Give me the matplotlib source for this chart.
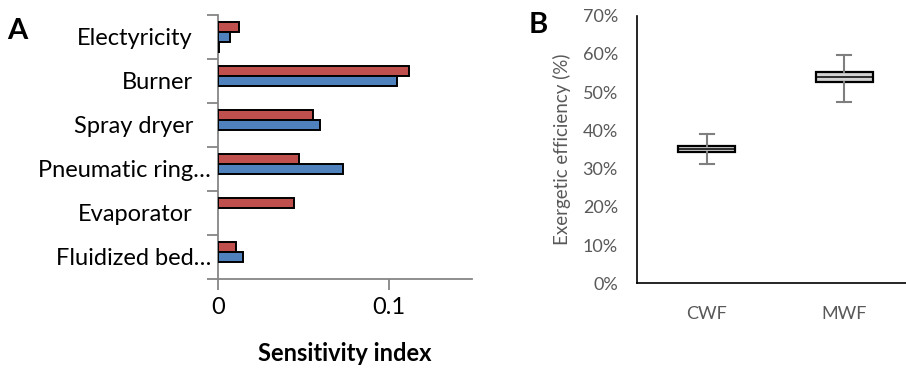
import numpy as np
import matplotlib
matplotlib.use("Agg")
import matplotlib.pyplot as plt
from matplotlib.ticker import FixedLocator, PercentFormatter

# ---- Panel A data ----
categories = ["Fluidized bed…", "Evaporator", "Pneumatic ring…", "Spray dryer", "Burner", "Electyricity"]
red_vals = [0.0106, 0.0446, 0.0477, 0.0555, 0.1121, 0.0125]
blue_vals = [0.0148, 0.0, 0.0731, 0.0598, 0.1047, 0.0070]
third_vals = [0.0, 0.0, 0.0, 0.0, 0.0, 0.0004]
x_ticks_a = [0, 0.1]
x_ticklabels_a = ["0", "0.1"]

# ---- Panel B data ----
box_labels = ["CWF", "MWF"]
whisker_low = [0.312, 0.475]
q1 = [0.344, 0.527]
median = [0.352, 0.539]
q3 = [0.360, 0.552]
whisker_high = [0.390, 0.598]
y_ticks_b = [0, 0.1, 0.2, 0.3, 0.4, 0.5, 0.6, 0.7]

plt.rcParams['font.family'] = ['Lato', 'DejaVu Sans']

fig = plt.figure(figsize=(9.06, 3.68), dpi=100)

# ---------- Panel A ----------
axA = fig.add_axes([0.2406, 0.241, 0.280, 0.719])
ypos = np.arange(len(categories))
w = 0.225
red_c = "#C0504D"
blue_c = "#4F81BD"
def draw(vals, offset, color):
    vals = np.asarray(vals)
    m = vals > 0
    axA.barh(ypos[m] + offset, vals[m], height=w, color=color,
             edgecolor="black", linewidth=1.4, zorder=3)
draw(red_vals, w, red_c)
draw(blue_vals, 0, blue_c)
draw(third_vals, -w, "#9BBB59")

axA.set_xlim(0, 0.1487)
axA.set_ylim(-0.5, len(categories) - 0.5)
axA.set_xticks(x_ticks_a)
axA.set_xticklabels(x_ticklabels_a, fontsize=17)
axA.set_yticks(ypos)
axA.set_yticklabels([])
ytr = axA.get_yaxis_transform()
for i, lab in enumerate(categories):
    xoff = -0.0276 if lab.endswith("…") else -0.0985
    axA.text(xoff, ypos[i] - 0.03, lab, transform=ytr, ha="right", va="center",
             fontsize=17, color="black")
axA.yaxis.set_minor_locator(FixedLocator(np.arange(-0.5, len(categories), 1.0)))
axA.tick_params(axis='y', which='major', length=0)
axA.tick_params(axis='y', which='minor', length=8, width=1.3, color="#868686")
axA.tick_params(axis='x', which='major', length=8, width=1.3, color="#868686", pad=5)
for s in ["top", "right"]:
    axA.spines[s].set_visible(False)
for s in ["left", "bottom"]:
    axA.spines[s].set_color("#868686")
    axA.spines[s].set_linewidth(1.3)
axA.set_xlabel("Sensitivity index", fontsize=17, fontweight="bold", labelpad=17)
fig.text(0.008, 0.916, "A", fontsize=21, fontweight="bold", va="center", ha="left")

# ---------- Panel B ----------
axB = fig.add_axes([0.7034, 0.2302, 0.2966, 0.7271])
stats = []
for i in range(len(box_labels)):
    stats.append(dict(label=box_labels[i], whislo=whisker_low[i], q1=q1[i],
                      med=median[i], q3=q3[i], whishi=whisker_high[i]))
axB.bxp(stats, positions=[1, 2], widths=0.41, patch_artist=True, showfliers=False,
        boxprops=dict(facecolor="#D3D3D3", edgecolor="black", linewidth=1.6),
        medianprops=dict(color="black", linewidth=1.1),
        whiskerprops=dict(color="#7F7F7F", linewidth=1.5),
        capprops=dict(color="#7F7F7F", linewidth=1.5),
        capwidths=0.1, zorder=3)
axB.set_xlim(0.496, 2.448)
axB.set_ylim(0, 0.7)
axB.set_yticks(y_ticks_b)
axB.yaxis.set_major_formatter(PercentFormatter(1.0, decimals=0))
axB.tick_params(axis='both', length=0, labelsize=13, labelcolor="#595959")
axB.tick_params(axis='y', pad=14)
axB.tick_params(axis='x', pad=16)
for s in ["top", "right"]:
    axB.spines[s].set_visible(False)
for s in ["left", "bottom"]:
    axB.spines[s].set_color("black")
    axB.spines[s].set_linewidth(1.2)
axB.set_ylabel("Exergetic efficiency (%)", fontsize=13.5, color="#595959", labelpad=8)
fig.text(0.584, 0.932, "B", fontsize=21, fontweight="bold", va="center", ha="left")

fig.savefig("out.png", dpi=100)
